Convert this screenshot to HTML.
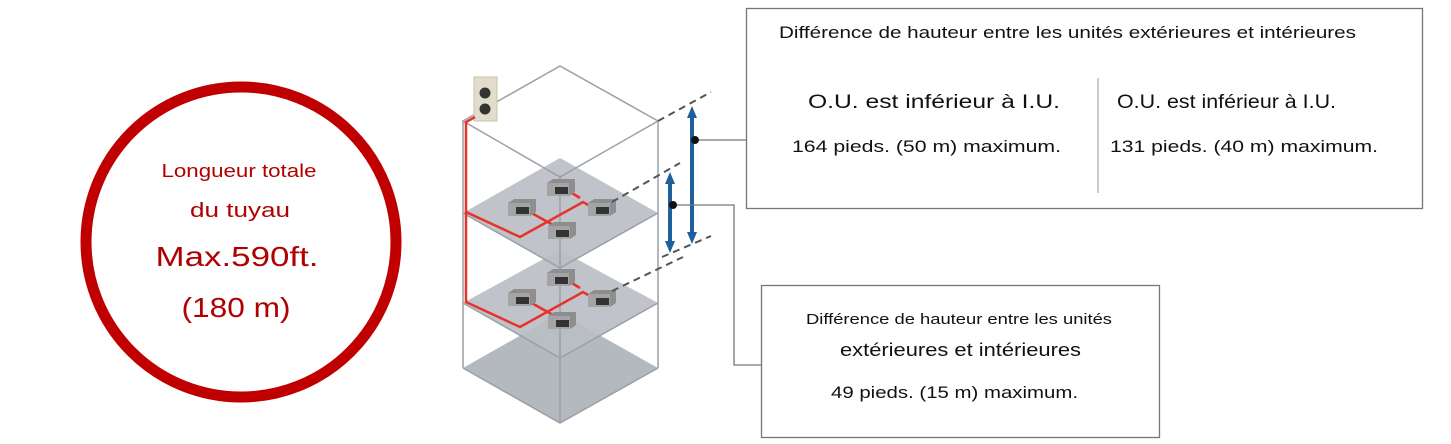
<!DOCTYPE html>
<html><head><meta charset="utf-8"><style>
body{margin:0;width:1451px;height:444px;background:#fff;overflow:hidden;font-family:"Liberation Sans",sans-serif}
svg{position:absolute;left:0;top:0}
</style></head><body>
<svg width="1451" height="444" viewBox="0 0 1451 444" font-family="Liberation Sans, sans-serif">
<defs>
<g id="unit"><polygon points="0,4 6,0 28,0 28,13 22,17 0,17" fill="#8e8e8e"/><rect x="0" y="4" width="22" height="13" fill="#a4a4a4"/><rect x="8" y="8" width="13" height="7" fill="#333"/></g>
</defs>
<circle cx="241" cy="242" r="155" fill="none" stroke="#c00000" stroke-width="11"/>
<g fill="#b00000" text-anchor="middle">
<text x="239" y="177" font-size="18" textLength="155" lengthAdjust="spacingAndGlyphs">Longueur totale</text>
<text x="240" y="217" font-size="20" textLength="100" lengthAdjust="spacingAndGlyphs">du tuyau</text>
<text x="237" y="266" font-size="28" textLength="163" lengthAdjust="spacingAndGlyphs">Max.590ft.</text>
<text x="236" y="317" font-size="28" textLength="109" lengthAdjust="spacingAndGlyphs">(180 m)</text>
</g>
<polygon points="463,368 560,313 658,368 560,423" fill="#b4b9bf"/>
<polygon points="463,303 560,250 658,303 560,358" fill="#b9bec4" opacity="0.9"/>
<polygon points="463,213 560,158 658,213 560,268" fill="#b9bec4" opacity="0.9"/>
<g fill="none" stroke="#9aa0a6" stroke-width="1.5">
<polygon points="463,121 560,66 658,121 560,177"/>
<line x1="463" y1="121" x2="463" y2="368"/><line x1="658" y1="121" x2="658" y2="368"/>
<line x1="560" y1="177" x2="560" y2="423"/>
<polyline points="463,368 560,423 658,368"/>
<polyline points="463,213 560,268 658,213"/>
<polyline points="463,303 560,358 658,303"/>
</g>
<rect x="474" y="77" width="23" height="44" fill="#e2dccb" stroke="#c9c2ad"/>
<circle cx="485" cy="93" r="5.5" fill="#333"/><circle cx="485" cy="109" r="5.5" fill="#333"/>
<g fill="none" stroke="#e8312a" stroke-width="2.5">
<polyline points="475,117 466,122 466,302 520,327 583,292 597,300"/>
<polyline points="466,212 520,237 583,202 597,210"/>
<line x1="567" y1="190" x2="580" y2="198"/><line x1="528" y1="211" x2="562" y2="230"/>
<line x1="567" y1="280" x2="580" y2="288"/><line x1="528" y1="301" x2="562" y2="320"/>
</g>
<use href="#unit" x="547" y="179"/><use href="#unit" x="508" y="199"/><use href="#unit" x="588" y="199"/><use href="#unit" x="548" y="222"/>
<use href="#unit" x="547" y="269"/><use href="#unit" x="508" y="289"/><use href="#unit" x="588" y="290"/><use href="#unit" x="548" y="312"/>
<g stroke="#555" stroke-width="2" stroke-dasharray="7,5">
<line x1="658" y1="121" x2="711" y2="92"/>
<line x1="612" y1="202" x2="680" y2="163"/>
<line x1="662" y1="257" x2="711" y2="236"/>
<line x1="612" y1="291" x2="683" y2="257"/>
</g>
<g fill="#1f5f9a">
<rect x="690" y="116" width="4" height="118"/>
<polygon points="692,106 687,118 697,118"/><polygon points="692,244 687,232 697,232"/>
<rect x="668" y="181" width="4" height="63"/>
<polygon points="670,172 665,184 675,184"/><polygon points="670,253 665,241 675,241"/>
</g>
<g fill="none" stroke="#777" stroke-width="1.3">
<line x1="695" y1="140" x2="746" y2="140"/>
<polyline points="673,205 734,205 734,365 761,365"/>
</g>
<circle cx="695" cy="140" r="4" fill="#111"/><circle cx="673" cy="205" r="4" fill="#111"/>
<rect x="746.5" y="8.5" width="676" height="200" fill="#fff" stroke="#777" stroke-width="1.3"/>
<line x1="1098" y1="78" x2="1098" y2="193" stroke="#999"/>
<g fill="#111">
<text x="779" y="38" font-size="17" textLength="577" lengthAdjust="spacingAndGlyphs">Différence de hauteur entre les unités extérieures et intérieures</text>
<text x="808" y="108" font-size="19" textLength="252" lengthAdjust="spacingAndGlyphs">O.U. est inférieur à I.U.</text>
<text x="792" y="152" font-size="17" textLength="269" lengthAdjust="spacingAndGlyphs">164 pieds. (50 m) maximum.</text>
<text x="1117" y="108" font-size="19" textLength="219" lengthAdjust="spacingAndGlyphs">O.U. est inférieur à I.U.</text>
<text x="1110" y="152" font-size="17" textLength="268" lengthAdjust="spacingAndGlyphs">131 pieds. (40 m) maximum.</text>
</g>
<rect x="761.5" y="285.5" width="398" height="152" fill="#fff" stroke="#777" stroke-width="1.3"/>
<g fill="#111">
<text x="806" y="324" font-size="15" textLength="306" lengthAdjust="spacingAndGlyphs">Différence de hauteur entre les unités</text>
<text x="840" y="356" font-size="18" textLength="241" lengthAdjust="spacingAndGlyphs">extérieures et intérieures</text>
<text x="831" y="398" font-size="17" textLength="247" lengthAdjust="spacingAndGlyphs">49 pieds. (15 m) maximum.</text>
</g>
</svg>
</body></html>
